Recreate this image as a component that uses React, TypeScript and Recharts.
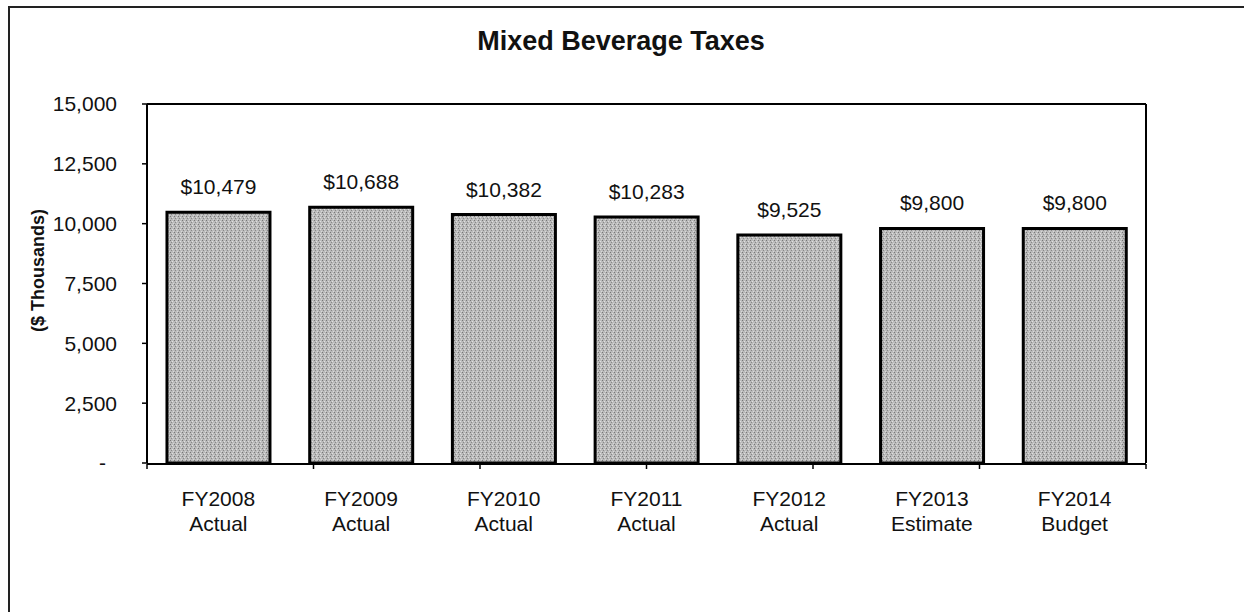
import { BarChart, Bar, XAxis, YAxis, LabelList } from 'recharts';

const years = ['FY2008', 'FY2009', 'FY2010', 'FY2011', 'FY2012', 'FY2013', 'FY2014'];
const kinds = ['Actual', 'Actual', 'Actual', 'Actual', 'Actual', 'Estimate', 'Budget'];
const taxes = [10479, 10688, 10382, 10283, 9525, 9800, 9800];
const yTicks = [0, 2500, 5000, 7500, 10000, 12500, 15000];
const bandEdges = [0, 1, 2, 3, 4, 5, 6, 7];

const font = 'Arial, "Liberation Sans", sans-serif';
const ink = '#111';
const frame = { stroke: '#000', strokeWidth: 2 };

const data = years.map((year, i) => ({ year, kind: kinds[i], value: taxes[i] }));

function YTick({ x, y, payload }: any) {
  const v = payload.value as number;
  // accounting format: zero shows as a dash, set a bit further left
  const label = v === 0 ? '-' : v.toLocaleString('en-US');
  return (
    <text
      x={v === 0 ? x - 11 : x}
      y={y}
      dy="0.355em"
      textAnchor="end"
      fontSize={21}
      fontFamily={font}
      fill={ink}
    >
      {label}
    </text>
  );
}

function XTick({ x, y, payload }: any) {
  const kind = kinds[years.indexOf(payload.value)];
  return (
    <text x={x} y={y} textAnchor="middle" fontSize={21} fontFamily={font} fill={ink}>
      <tspan x={x} dy={43}>
        {payload.value}
      </tspan>
      <tspan x={x} dy={25}>
        {kind}
      </tspan>
    </text>
  );
}

const NoTick = () => <g />;

function YLabel({ viewBox }: any) {
  const x = viewBox.x + 28;
  const y = viewBox.y + viewBox.height / 2 - 13;
  return (
    <text
      x={x}
      y={y}
      transform={`rotate(-90, ${x}, ${y})`}
      textAnchor="middle"
      dy="0.355em"
      fontSize={18}
      fontWeight="bold"
      fontFamily={font}
      fill={ink}
    >
      ($ Thousands)
    </text>
  );
}

export default function App() {
  return (
    <>
      <style>{'html, body { overflow: hidden; }'}</style>
      {/* page frame: only left and top edges show, the rest runs off the page */}
      <div
        style={{
          position: 'absolute',
          top: 6,
          left: 8,
          width: 1400,
          height: 700,
          borderLeft: '2px solid #222',
          borderTop: '2px solid #222',
        }}
      />
      <div style={{ position: 'absolute', top: 8, left: 10, width: 1225, height: 598 }}>
        <div
          style={{
            position: 'absolute',
            top: 17,
            left: 0,
            width: 1222,
            textAlign: 'center',
            fontFamily: font,
            fontWeight: 'bold',
            fontSize: 27,
            lineHeight: '32px',
            color: ink,
          }}
        >
          Mixed Beverage Taxes
        </div>
        <BarChart
          width={1225}
          height={598}
          data={data}
          margin={{ top: 95, right: 88, left: 0, bottom: 141 }}
          barCategoryGap="14%"
        >
          <defs>
            <pattern id="stipple" width="4" height="4" patternUnits="userSpaceOnUse">
              <rect width="4" height="4" fill="#bababa" />
              <rect x="0" y="0" width="1" height="1" fill="#777" />
              <rect x="2" y="1" width="1" height="1" fill="#e0e0e0" />
              <rect x="1" y="2" width="1" height="1" fill="#888" />
              <rect x="3" y="3" width="1" height="1" fill="#d8d8d8" />
            </pattern>
          </defs>
          <XAxis
            dataKey="year"
            height={1}
            interval={0}
            tickSize={0}
            tickMargin={0}
            tickLine={false}
            axisLine={false}
            tick={<XTick />}
          />
          <XAxis
            xAxisId="edge"
            type="number"
            domain={[0, 7]}
            ticks={bandEdges}
            allowDataOverflow
            height={1}
            tick={<NoTick />}
            tickSize={5}
            tickLine={{ stroke: '#000', strokeWidth: 1.5 }}
            axisLine={frame}
          />
          <XAxis
            xAxisId="top"
            orientation="top"
            type="number"
            domain={[0, 1]}
            height={1}
            tick={false}
            tickLine={false}
            axisLine={frame}
          />
          <YAxis
            domain={[0, 15000]}
            ticks={yTicks}
            width={137}
            tickSize={5}
            tickMargin={25}
            axisLine={frame}
            tickLine={{ stroke: '#000', strokeWidth: 1.5 }}
            tick={<YTick />}
            label={<YLabel />}
          />
          <YAxis
            yAxisId="right"
            orientation="right"
            type="number"
            domain={[0, 1]}
            width={1}
            tick={false}
            tickLine={false}
            axisLine={frame}
          />
          <Bar dataKey="value" fill="url(#stipple)" stroke="#000" strokeWidth={3} isAnimationActive={false}>
            <LabelList
              dataKey="value"
              position="top"
              offset={18}
              formatter={(v: any) => '$' + Number(v).toLocaleString('en-US')}
              style={{ fontSize: 21, fontFamily: font, fill: ink }}
            />
          </Bar>
        </BarChart>
      </div>
    </>
  );
}
